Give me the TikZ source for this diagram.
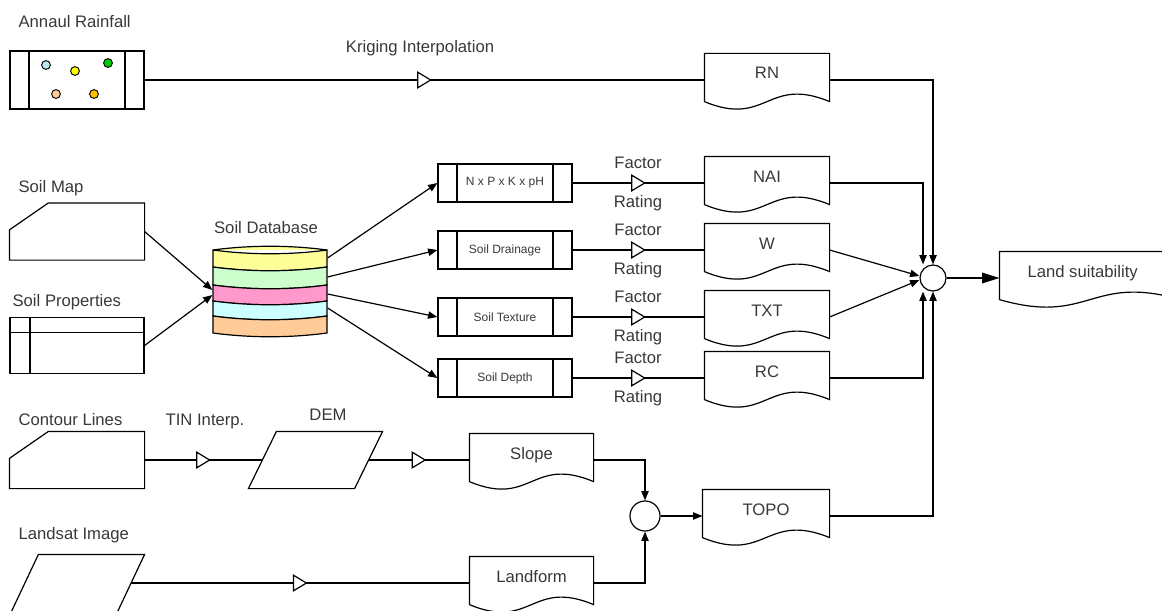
\documentclass[tikz,border=0pt]{standalone}
\usepackage{fontspec}
\setmainfont{Liberation Sans}
\usetikzlibrary{arrows.meta,calc,decorations.markings}
\tikzset{>={Triangle[length=7pt,width=5.5pt]}}
\colorlet{txtcol}{black!78}
\definecolor{layeryellow}{RGB}{255,255,153}
\definecolor{layergreen}{RGB}{204,255,204}
\definecolor{layerpink}{RGB}{255,153,204}
\definecolor{layercyan}{RGB}{204,255,255}
\definecolor{layerpeach}{RGB}{255,204,153}
\definecolor{dotblue}{RGB}{190,232,240}
\definecolor{dotyellow}{RGB}{255,255,0}
\definecolor{dotgreen}{RGB}{0,204,0}
\definecolor{dotpeach}{RGB}{255,204,153}
\definecolor{dotorange}{RGB}{255,192,0}
\tikzstyle{lbl}=[font=\fontsize{12.5}{14}\selectfont,text=txtcol,inner sep=0pt]
\tikzstyle{predef}=[draw,minimum width=100.5pt,minimum height=28.5pt,inner sep=0pt,font=\fontsize{9}{10}\selectfont,text=txtcol,
  path picture={\draw ([xshift=14.25pt]path picture bounding box.north west) -- ([xshift=14.25pt]path picture bounding box.south west)
    ([xshift=-14.25pt]path picture bounding box.north east) -- ([xshift=-14.25pt]path picture bounding box.south east);}]
\tikzstyle{docu}=[minimum width=93pt,minimum height=39pt,inner sep=0pt,text height=9pt,text depth=10.5pt,
  font=\fontsize{12.5}{14}\selectfont,text=txtcol]
\tikzstyle{shapebox}=[minimum width=100.5pt,minimum height=42pt,inner sep=0pt]
\tikzstyle{junction}=[draw,circle,fill=white,inner sep=0pt]
\tikzstyle{rated}=[postaction={decorate},decoration={markings,
  mark=at position 0.5 with {\arrow[xshift=5.5pt]{Triangle[fill=white,length=11pt,width=13pt]}}}]

\begin{document}
\begin{tikzpicture}[x=0.75pt,y=-0.75pt,line width=0.9pt]
  \useasboundingbox (0,0) rectangle (1162,610);
  \clip (0,0) rectangle (1162,610);

  % input layers
  \node[predef,minimum height=43.5pt] (rain) at (77,80) {};
  \node[shapebox] (map) at (77,231.5) {};
  \node[shapebox,draw,path picture={\draw ([yshift=-11.25pt]path picture bounding box.north west) -- ([yshift=-11.25pt]path picture bounding box.north east)
    ([xshift=15pt]path picture bounding box.north west) -- ([xshift=15pt]path picture bounding box.south west);}] (props) at (77,345.5) {};
  \node[shapebox] (contour) at (77,460) {};
  \node[shapebox,minimum width=99pt] (landsat) at (78,583) {};
  \node[shapebox,minimum width=99.75pt] (dem) at (315.5,460) {};
  \node[minimum width=85.5pt,minimum height=62.25pt,inner sep=0pt] (db) at (270,291.5) {};

  % titles
  \node[lbl,anchor=west] (raintitle) at (18,22) {Annaul Rainfall};
  \node[lbl,anchor=west] (maptitle) at (18,188) {Soil Map};
  \node[lbl,anchor=west] (propstitle) at (12,302) {Soil Properties};
  \node[lbl,anchor=west] (contourtitle) at (18,420) {Contour Lines};
  \node[lbl,anchor=west] (landsattitle) at (18,535) {Landsat Image};
  \node[lbl] (dbtitle) at (266,228) {Soil Database};
  \node[lbl] (demtitle) at (328,415) {DEM};
  \node[lbl] (tintitle) at (205,421) {TIN Interp.};
  \node[lbl] (krigtitle) at (420,48) {Kriging Interpolation};

  % rainfall stations
  \foreach \x/\y/\c in {46/65/dotblue,75/71/dotyellow,108/63/dotgreen,56/94/dotpeach,94/94/dotorange}
    \draw[line width=0.7pt,fill=\c] (\x,\y) circle (3.3pt);

  % soil database layers
  \draw[fill=layeryellow] (213,250) .. controls (250,245) and (290,245) .. (327,250);
  \foreach \ya/\yb/\col in {250/267/layeryellow,267/285/layergreen,285/301/layerpink,301/316/layercyan,316/333/layerpeach}
    \draw[fill=\col] (213,\ya) .. controls (250,\ya+5) and (290,\ya+5) .. (327,\ya) -- (327,\yb)
      .. controls (290,\yb+5) and (250,\yb+5) .. (213,\yb) -- cycle;

  % soil factors
  \node[predef] (npk) at (505,183) {N x P x K x pH};
  \node[predef] (drain) at (505,250) {Soil Drainage};
  \node[predef] (texture) at (505,317) {Soil Texture};
  \node[predef] (depth) at (505,378) {Soil Depth};
  \foreach \y in {183,250,317,378} {
    \node[lbl] (factor\y) at (638,\y-20) {Factor};
    \node[lbl] (rating\y) at (638,\y+20) {Rating};
  }

  % rating maps
  \node[docu] (rn) at (767,80) {RN};
  \node[docu] (nai) at (767,183) {NAI};
  \node[docu] (wd) at (767,250) {W};
  \node[docu] (txt) at (767,317) {TXT};
  \node[docu] (rc) at (767,378) {RC};
  \node[docu,minimum width=92.25pt] (slope) at (531.5,460) {Slope};
  \node[docu,minimum width=92.25pt] (landform) at (531.5,583) {Landform};
  \node[docu,minimum width=94.5pt] (topo) at (766,516) {TOPO};
  \node[docu,minimum width=135pt] (suit) at (1090,278) {\hspace*{-11pt}Land suitability};
  \node[junction,minimum size=19.5pt] (sum) at (933,278) {};
  \node[junction,minimum size=22.5pt] (sum2) at (645,516) {};

  % outlines
  \foreach \n in {rn,nai,wd,txt,rc,slope,landform,topo,suit}
    \draw (\n.north west) -- (\n.north east) -- ([yshift=3.75pt]\n.south east)
      .. controls ([yshift=23.25pt]\n.south) and ([yshift=-15.75pt]\n.south) .. ([yshift=3.75pt]\n.south west) -- cycle;
  \foreach \n in {map,contour}
    \draw (\n.south west) -- (\n.south east) -- (\n.north east) -- ($(\n.north west)+(39,0)$) -- ($(\n.north west)+(0,27)$) -- cycle;
  \foreach \n/\o in {dem/28,landsat/27}
    \draw (\n.south west) -- ($(\n.south east)+(-\o,0)$) -- (\n.north east) -- ($(\n.north west)+(\o,0)$) -- cycle;

  % connectors
  \draw[rated] (rain.east) -- (rn.west);
  \draw[->] (map.east) -- ($(db.west)+(0,-1.5)$);
  \draw[->] (props.east) -- ($(db.west)+(0,3.5)$);
  \draw[->] ($(db.east)+(0,-33.5)$) -- (npk.west);
  \draw[->] ($(db.east)+(0,-14.5)$) -- (drain.west);
  \draw[->] ($(db.east)+(0,2.5)$) -- (texture.west);
  \draw[->] ($(db.east)+(0,16.5)$) -- (depth.west);
  \draw[rated] (npk.east) -- (nai.west);
  \draw[rated] (drain.east) -- (wd.west);
  \draw[rated] (texture.east) -- (txt.west);
  \draw[rated] (depth.east) -- (rc.west);
  \draw[->] (rn.east) -| (sum.north);
  \draw[->] (nai.east) -| ([xshift=-7.5pt]sum.north);
  \draw[->] (wd.east) -- ([yshift=1.5pt]sum.west);
  \draw[->] (txt.east) -- ([yshift=-1.5pt]sum.west);
  \draw[->] (rc.east) -| ([xshift=-7.5pt]sum.south);
  \draw[->] (topo.east) -| (sum.south);
  \draw[-{Triangle[length=13pt,width=8pt]}] (sum.east) -- (suit.west);
  \draw[rated] (contour.east) -- ($(dem.west)+(14,0)$);
  \draw[rated] ($(dem.east)+(-14,0)$) -- (slope.west);
  \draw[rated] ($(landsat.east)+(-13.5,0)$) -- (landform.west);
  \draw[->] (slope.east) -| (sum2.north);
  \draw[->] (landform.east) -| (sum2.south);
  \draw[->] (sum2.east) -- (topo.west);
\end{tikzpicture}
\end{document}
